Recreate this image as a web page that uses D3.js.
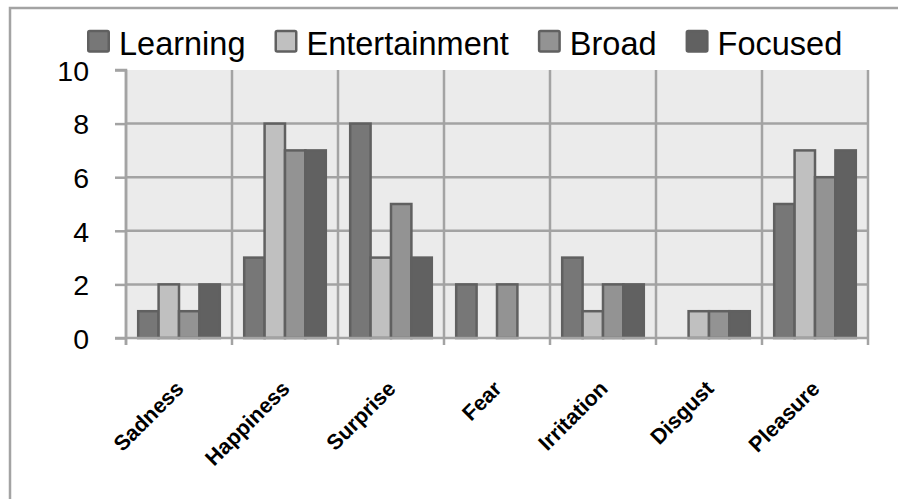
<!DOCTYPE html>
<html>
<head>
<meta charset="utf-8">
<script src="https://cdn.jsdelivr.net/npm/d3@7"></script>
<style>
  html, body { margin: 0; padding: 0; background: #ffffff; }
  svg { display: block; }
</style>
</head>
<body>
<svg id="chart" width="898" height="499"></svg>
<script>
// Emotion categories along the x axis
const categories = ["Sadness", "Happiness", "Surprise", "Fear", "Irritation", "Disgust", "Pleasure"];

// One array per series, in category order
const learning      = [1, 3, 8, 2, 3, 0, 5];
const entertainment = [2, 8, 3, 0, 1, 1, 7];
const broad         = [1, 7, 5, 2, 2, 1, 6];
const focused       = [2, 7, 3, 0, 2, 1, 7];

const seriesNames = ["Learning", "Entertainment", "Broad", "Focused"];
const seriesValues = [learning, entertainment, broad, focused];
const seriesColors = ["#777777", "#c0c0c0", "#939393", "#616161"];

const yTicks = [0, 2, 4, 6, 8, 10];

const svg = d3.select("#chart");
const W = 898, H = 499;
const plot = { left: 126, right: 868, top: 70, bottom: 338 };
const gridColor = "#a3a3a3";
const outline = "#606060";

// Outer chart frame (runs past the right and bottom edges)
svg.append("rect")
  .attr("x", 10).attr("y", 8)
  .attr("width", W + 20).attr("height", H + 20)
  .attr("fill", "#ffffff")
  .attr("stroke", gridColor).attr("stroke-width", 2.5);

// Scales
const x0 = d3.scaleBand().domain(categories).range([plot.left, plot.right]).paddingInner(0).paddingOuter(0);
const bw = x0.bandwidth();
const x1 = d3.scaleBand().domain(seriesNames).range([bw * 0.115, bw * 0.885]).padding(0);
const y = d3.scaleLinear().domain([0, 10]).range([plot.bottom, plot.top]);

// Plot background
svg.append("rect")
  .attr("x", plot.left).attr("y", plot.top)
  .attr("width", plot.right - plot.left).attr("height", plot.bottom - plot.top)
  .attr("fill", "#ebebeb");

// Horizontal gridlines
svg.append("g").selectAll("line")
  .data(yTicks.filter(t => t > 0 && t < 10))
  .join("line")
  .attr("x1", plot.left).attr("x2", plot.right)
  .attr("y1", d => y(d)).attr("y2", d => y(d))
  .attr("stroke", gridColor).attr("stroke-width", 2.5);

// Vertical gridlines at category boundaries, extended below the axis as ticks
const bounds = categories.map(c => x0(c)).concat([plot.right]);
svg.append("g").selectAll("line")
  .data(bounds)
  .join("line")
  .attr("x1", d => d).attr("x2", d => d)
  .attr("y1", plot.top).attr("y2", plot.bottom + 7)
  .attr("stroke", gridColor).attr("stroke-width", 2.5);

// Bars
const groups = svg.append("g").selectAll("g")
  .data(categories)
  .join("g")
  .attr("transform", d => `translate(${x0(d)},0)`);

groups.selectAll("rect")
  .data((c, ci) => seriesNames.map((s, si) => ({ s, si, v: seriesValues[si][ci] })))
  .join("rect")
  .filter(d => d.v > 0)
  .attr("x", d => x1(d.s))
  .attr("y", d => y(d.v))
  .attr("width", x1.bandwidth())
  .attr("height", d => y(0) - y(d.v))
  .attr("fill", d => seriesColors[d.si])
  .attr("stroke", outline)
  .attr("stroke-width", 2.5);

// Baseline
svg.append("line")
  .attr("x1", plot.left - 11).attr("x2", plot.right)
  .attr("y1", y(0)).attr("y2", y(0))
  .attr("stroke", gridColor).attr("stroke-width", 2.5);

// Y axis line and ticks
const yAxis = d3.axisLeft(y).tickValues(yTicks).tickSize(11).tickPadding(26).tickFormat(d3.format("d"));
const yg = svg.append("g").attr("transform", `translate(${plot.left},0)`).call(yAxis);
yg.select(".domain").attr("stroke", gridColor).attr("stroke-width", 2.5)
  .attr("d", `M-11,${plot.top}H0V${plot.bottom + 7}`);
yg.selectAll(".tick line").attr("stroke", gridColor).attr("stroke-width", 2.5);
yg.selectAll(".tick text")
  .attr("fill", "#000000")
  .style("font-family", "'Liberation Sans', Arial, sans-serif")
  .style("font-size", "28.5px")
  .attr("dy", "0.36em");

// Category labels, rotated
svg.append("g").selectAll("text")
  .data(categories)
  .join("text")
  .attr("transform", d => `translate(${x0(d) + bw / 2 + 6},390) rotate(-45)`)
  .attr("text-anchor", "end")
  .style("font-family", "'Liberation Sans', Arial, sans-serif")
  .style("font-weight", "bold")
  .style("font-size", "21.5px")
  .attr("fill", "#000000")
  .text(d => d);

// Legend
const legend = svg.append("g").attr("transform", "translate(87,0)");
let lx = 0;
seriesNames.forEach((name, i) => {
  const item = legend.append("g").attr("transform", `translate(${lx},0)`);
  item.append("rect")
    .attr("x", 1.25).attr("y", 31)
    .attr("width", 20.5).attr("height", 20.5)
    .attr("rx", 1.5)
    .attr("fill", seriesColors[i])
    .attr("stroke", outline).attr("stroke-width", 2.5);
  const t = item.append("text")
    .attr("x", 32).attr("y", 55)
    .style("font-family", "'Liberation Sans', Arial, sans-serif")
    .style("font-size", "32.5px")
    .attr("fill", "#000000")
    .text(name);
  lx += 32 + t.node().getComputedTextLength() + 29;
});
</script>
</body>
</html>
